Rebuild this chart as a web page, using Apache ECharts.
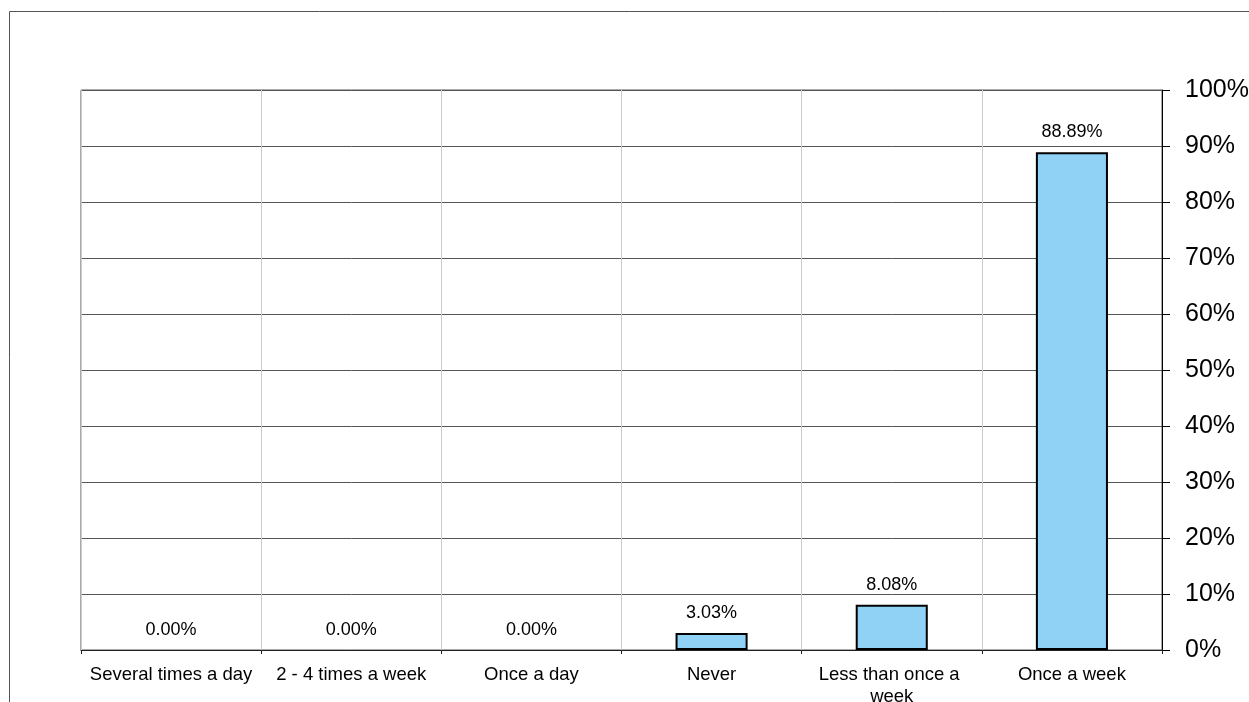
<!DOCTYPE html>
<html>
<head>
<meta charset="utf-8">
<script src="https://cdn.jsdelivr.net/npm/echarts@6/dist/echarts.min.js"></script>
<style>
html,body{margin:0;padding:0;background:#fff;}
#chart{width:1249px;height:702px;}
</style>
</head>
<body>
<div id="chart"></div>
<script>
var categories = ['Several times a day', '2 - 4 times a week', 'Once a day', 'Never', 'Less than once a week', 'Once a week'];
var values = [0, 0, 0, 3.03, 8.08, 88.89];
var yTicks = [0, 10, 20, 30, 40, 50, 60, 70, 80, 90, 100];

var FONT = "'Liberation Sans', Arial, sans-serif";
var chart = echarts.init(document.getElementById('chart'), null, {renderer: 'canvas'});
chart.setOption({
  animation: false,
  backgroundColor: '#fff',
  graphic: [{
    type: 'rect',
    shape: {x: 9.5, y: 11.5, width: 1400, height: 1000},
    style: {fill: 'none', stroke: '#555', lineWidth: 1},
    silent: true
  }],
  grid: {
    left: 81, right: 87, top: 90, bottom: 52,
    containLabel: false, outerBoundsMode: 'none',
    show: true, borderColor: '#555', borderWidth: 1, backgroundColor: 'transparent'
  },
  xAxis: {
    type: 'category',
    data: categories,
    boundaryGap: true,
    axisLine: {show: true, lineStyle: {color: '#222', width: 1}},
    axisTick: {show: true, length: 4, alignWithLabel: false, lineStyle: {color: '#222'}},
    axisLabel: {
      interval: 0, margin: 14, color: '#000', fontSize: 18.5, fontFamily: FONT,
      lineHeight: 22, width: 174, overflow: 'break', align: 'center'
    },
    splitLine: {show: true, lineStyle: {color: '#cccccc', width: 1}}
  },
  yAxis: {
    type: 'value',
    position: 'right',
    min: yTicks[0], max: yTicks[yTicks.length - 1], interval: 10,
    axisLine: {show: true, lineStyle: {color: '#000', width: 1}},
    axisTick: {show: true, length: 8, inside: false, lineStyle: {color: '#000'}},
    axisLabel: {
      margin: 23, color: '#000', fontSize: 25, fontFamily: FONT,
      formatter: function (v) { return v + '%'; }
    },
    splitLine: {show: true, lineStyle: {color: '#555', width: 1}}
  },
  series: [{
    type: 'bar',
    data: values.map(function (v) {
      return {value: v, itemStyle: {borderWidth: v === 0 ? 0 : 2}};
    }),
    barWidth: '40%',
    itemStyle: {color: '#90d2f6', borderColor: '#000', borderWidth: 2},
    label: {
      show: true, position: 'top', distance: 11, color: '#000',
      fontSize: 18, fontFamily: FONT,
      formatter: function (p) { return p.value.toFixed(2) + '%'; }
    }
  }]
});
</script>
</body>
</html>
